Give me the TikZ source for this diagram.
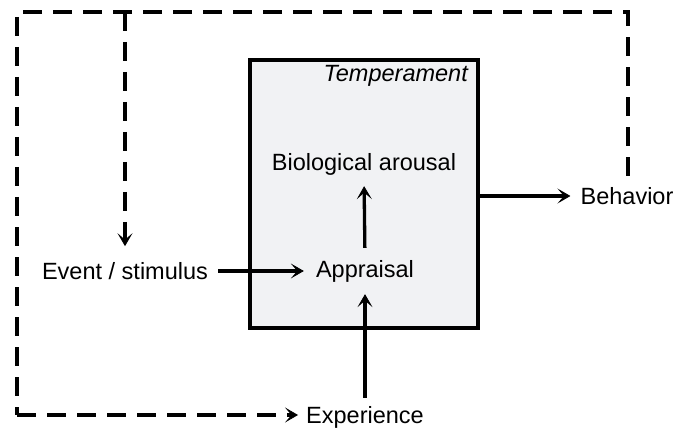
\documentclass[tikz,border=0pt]{standalone}
\usepackage{fontspec}
\setmainfont{Liberation Sans}
\usetikzlibrary{arrows.meta}
\definecolor{boxfill}{HTML}{F1F2F4}
\begin{document}
\begin{tikzpicture}[x=1pt,y=-1pt,
  lbl/.style={font=\fontsize{23.5}{27}\selectfont, inner sep=0pt, anchor=center},
  tip/.style={-{Stealth[length=13pt,width=15pt,inset=6.5pt,line width=0.8pt]}},
  arr/.style={line width=3.3pt, tip},
  dsh/.style={line width=3.5pt, dash pattern=on 19pt off 11pt},
  dsharr/.style={dsh, tip}]
\useasboundingbox (0,0) rectangle (686,433);
\node[draw, line width=3.2pt, fill=boxfill, minimum width=228pt, minimum height=268pt, inner sep=0pt] (box) at (364,194) {};
\node[lbl, font=\fontsize{23.5}{27}\selectfont\itshape, anchor=east] (temp) at (468,76) {Temperament};
\node[lbl] (bio) at (364,164) {Biological arousal};
\node[lbl] (app) at (365,271) {Appraisal};
\node[lbl] (evt) at (125,271) {Event / stimulus};
\node[lbl] (beh) at (627,196) {Behavior};
\node[lbl] (exp) at (365,417) {Experience};
\coordinate (tl) at (17,12);
\coordinate (tr) at (628,12);
\coordinate (bl) at (17,415);
\coordinate (tm) at (125,12);
\coordinate (rb) at (628,176);
\draw[arr, shorten <=10pt, shorten >=12pt] (evt.east) -- (app.west);
\draw[arr, shorten <=12pt, shorten >=11pt] (app.north) -- (bio.south);
\draw[arr, shorten <=8pt, shorten >=12pt] (exp.north) -- (app.south);
\draw[arr, shorten >=10pt] (box.east |- beh) -- (beh.west);
\draw[dsh] (rb) -- (tr) -- (tl) -- (bl);
\draw[dsharr, shorten >=8pt] (bl) -- (exp.west |- bl);
\draw[dsharr, shorten >=16pt] (tm) -- (evt.north);
\end{tikzpicture}
\end{document}
